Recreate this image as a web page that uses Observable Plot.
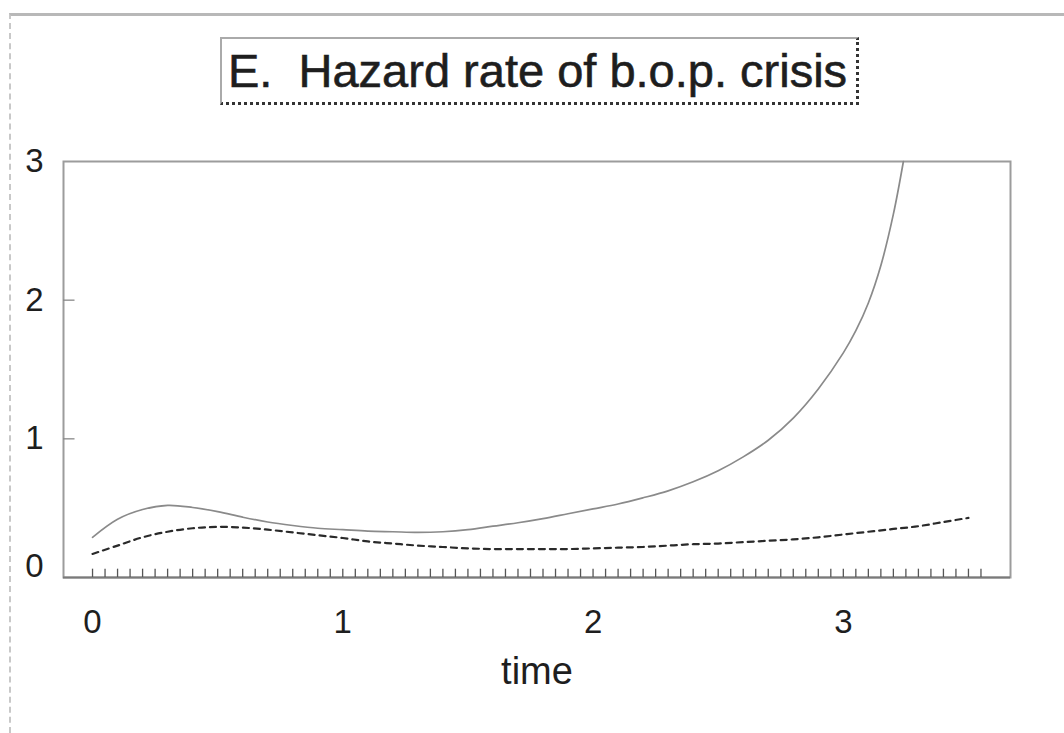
<!DOCTYPE html>
<html>
<head>
<meta charset="utf-8">
<script src="https://cdn.jsdelivr.net/npm/d3@7"></script>
<script src="https://cdn.jsdelivr.net/npm/@observablehq/plot@0.6"></script>
<style>
  body { margin: 0; background: #fff; font-family: "Liberation Sans", Arial, sans-serif; }
  #page { position: relative; width: 1064px; height: 733px; overflow: hidden; background: #fff; }
  #edge { position: absolute; left: 9px; top: 13px; width: 1070px; height: 740px;
          border-top: 3px solid #b8b8b8; border-left: 2px dashed #c8c8c8; box-sizing: border-box; }
  #head { position: relative; height: 120px; }
  #title { position: absolute; left: 220px; top: 37px; white-space: pre;
           font-size: 47px; line-height: 46px; color: #1e1e1e;
           -webkit-text-stroke: 0.6px #1e1e1e;
           padding: 9px 9px 8px 6px;
           border-top: 2px solid #aaa; border-left: 2px solid #aaa;
           border-right: 3px dotted #333; border-bottom: 3px dotted #333; background: #fff; }
  #chart { position: absolute; left: 0; top: 120px; }
  #chart text { -webkit-text-stroke: 0.4px #222; }
</style>
</head>
<body>
<div id="page">
  <div id="edge"></div>
  <div id="head"><div id="title">E.  Hazard rate of b.o.p. crisis</div></div>
  <div id="chart"></div>
</div>
<script>
// Upper curve (solid)
const timeHigh = [0, 0.1, 0.2, 0.3, 0.4, 0.5, 0.6, 0.7, 0.8, 0.9, 1.0, 1.1, 1.2, 1.3, 1.4, 1.5, 1.6, 1.7, 1.8, 1.9,
                  2.0, 2.1, 2.2, 2.3, 2.4, 2.5, 2.6, 2.7, 2.8, 2.9, 3.0, 3.05, 3.1, 3.15, 3.2, 3.24];
const hazardHigh = [0.29, 0.42, 0.49, 0.52, 0.505, 0.475, 0.435, 0.40, 0.375, 0.355, 0.345, 0.335, 0.33, 0.325, 0.33, 0.345, 0.37, 0.395, 0.425, 0.46,
                    0.495, 0.53, 0.575, 0.625, 0.69, 0.77, 0.87, 0.99, 1.15, 1.36, 1.62, 1.78, 1.98, 2.25, 2.62, 3.0];
// Lower curve (dashed)
const timeLow = [0, 0.1, 0.2, 0.3, 0.4, 0.5, 0.6, 0.7, 0.8, 0.9, 1.0, 1.1, 1.2, 1.3, 1.4, 1.5, 1.6, 1.7, 1.8, 1.9,
                 2.0, 2.1, 2.2, 2.3, 2.4, 2.5, 2.6, 2.7, 2.8, 2.9, 3.0, 3.1, 3.2, 3.3, 3.4, 3.5];
const hazardLow = [0.17, 0.23, 0.29, 0.33, 0.355, 0.365, 0.36, 0.345, 0.325, 0.305, 0.285, 0.26, 0.245, 0.23, 0.22, 0.21, 0.205, 0.205, 0.205, 0.205,
                   0.21, 0.215, 0.22, 0.23, 0.24, 0.245, 0.255, 0.265, 0.275, 0.29, 0.31, 0.33, 0.35, 0.37, 0.40, 0.43];
const xTicks = [0, 1, 2, 3];
const yTicks = [1, 2, 3];
const yZero = [0];
const gridStep = 0.05, gridEnd = 3.55;
const gridTimes = d3.range(0, gridEnd + 1e-9, gridStep);
const innerTicks = [1, 2];

const high = timeHigh.map((t, i) => ({t, v: hazardHigh[i]}));
const low = timeLow.map((t, i) => ({t, v: hazardLow[i]}));
const xDomain = [-0.116, 3.668];

const chart = Plot.plot({
  width: 1064,
  height: 613,
  marginLeft: 63,
  marginRight: 54,
  marginTop: 41,
  marginBottom: 156,
  x: {domain: xDomain},
  y: {domain: [0, 3]},
  style: {fontSize: "33px", fontFamily: "'Liberation Sans', Arial, sans-serif", color: "#1e1e1e", background: "transparent"},
  marks: [
    Plot.frame({stroke: "#9c9c9c", strokeWidth: 2}),
    Plot.ruleY([0], {stroke: "#7a7a7a", strokeWidth: 2}),
    Plot.ruleX(gridTimes, {y1: 0, y2: 0.06, stroke: "#555", strokeWidth: 1.3}),
    Plot.ruleY(innerTicks, {x1: xDomain[0], x2: xDomain[0] + 0.046, stroke: "#888", strokeWidth: 1.3}),
    Plot.line(high, {x: "t", y: "v", curve: "catmull-rom", stroke: "#8a8a8a", strokeWidth: 1.7}),
    Plot.line(low, {x: "t", y: "v", curve: "catmull-rom", stroke: "#2a2a2a", strokeWidth: 2.2, strokeDasharray: "6,5"}),
    Plot.axisX(xTicks, {tickSize: 0, tickPadding: 32, tickFormat: "d", label: null}),
    Plot.axisX({ticks: [], tickSize: 0, label: "time", labelAnchor: "center", labelArrow: "none", labelOffset: 106, fontSize: 38}),
    Plot.axisY(yTicks, {tickSize: 0, tickPadding: 20, tickFormat: "d", label: null}),
    Plot.axisY(yZero, {tickSize: 0, tickPadding: 20, tickFormat: "d", label: null, dy: -11})
  ]
});
document.getElementById("chart").appendChild(chart);
</script>
</body>
</html>
